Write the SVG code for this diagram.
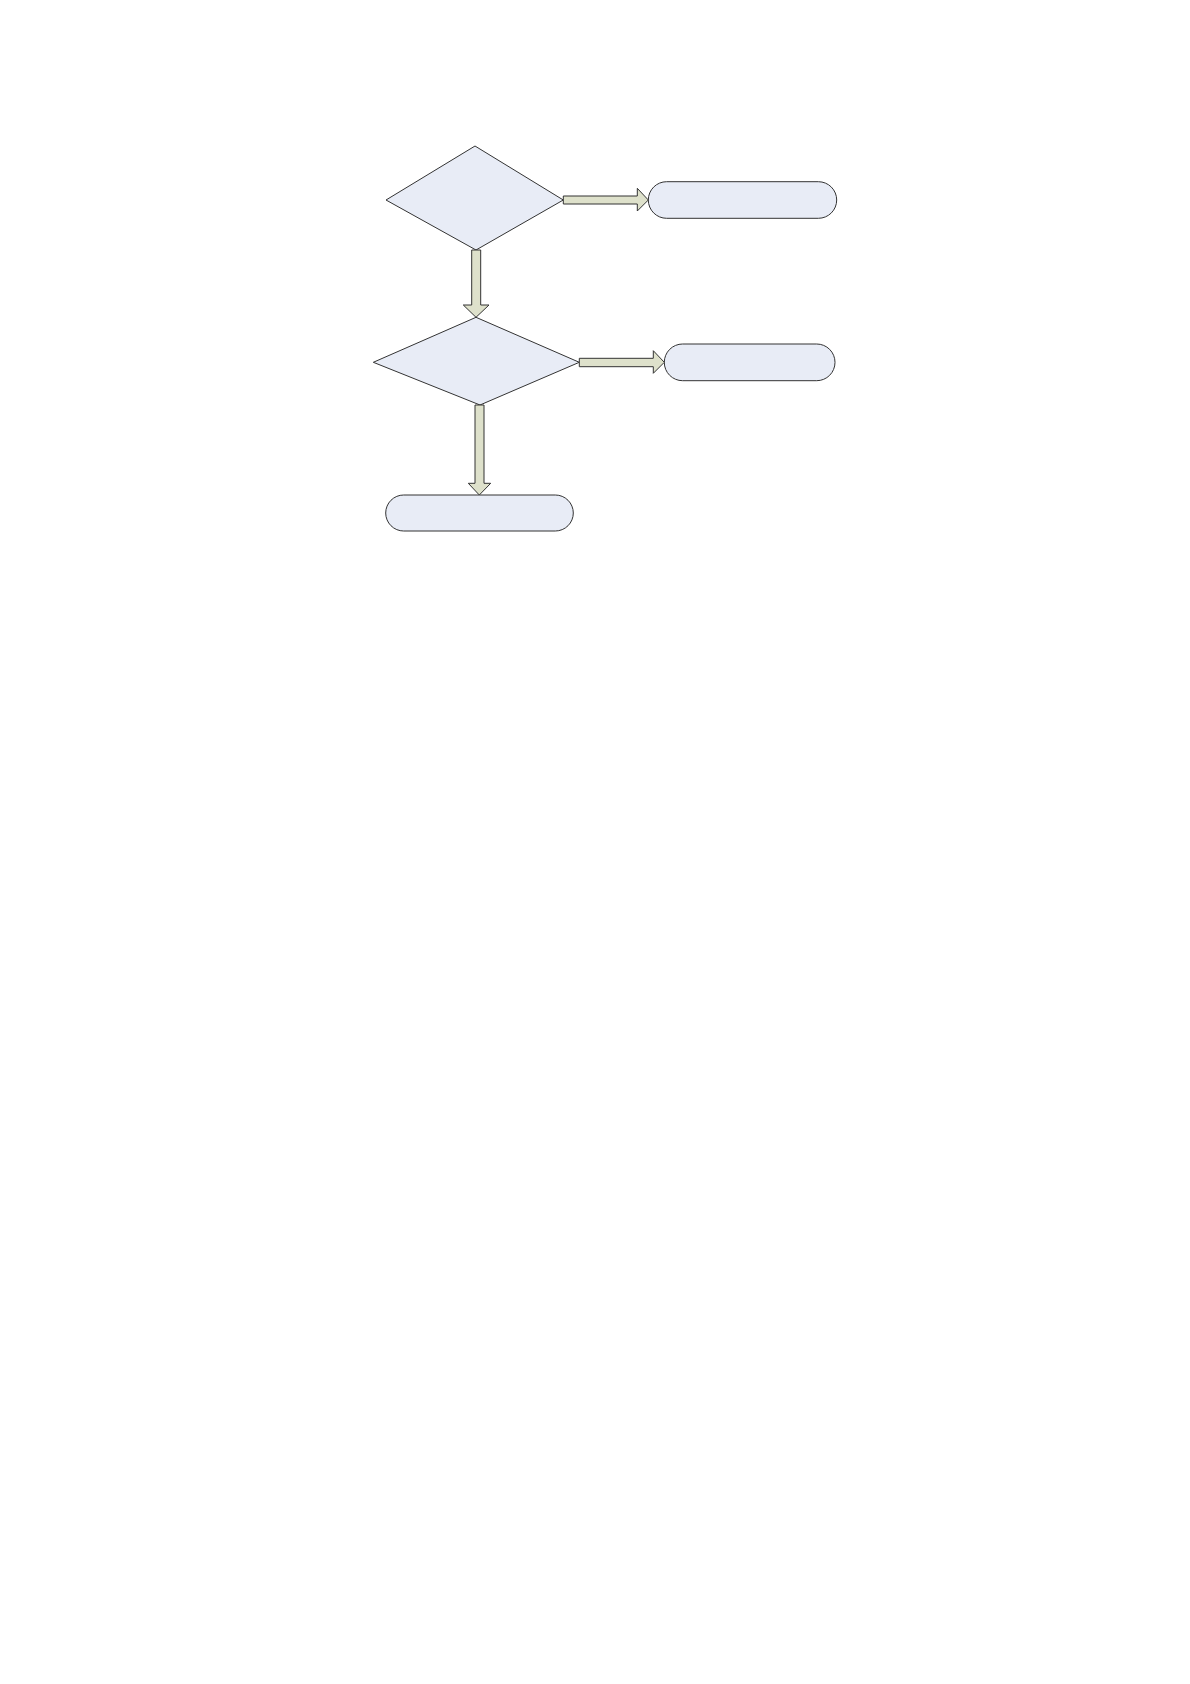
<svg xmlns="http://www.w3.org/2000/svg" width="1190" height="1684" viewBox="0 0 1190 1684">
<style>
.node{fill:#E8ECF6;stroke:#333333;stroke-width:1}
.arrow{fill:#DEE1CB;stroke:#333333;stroke-width:1;stroke-linejoin:miter}
</style>
<rect width="1190" height="1684" fill="#FFFFFF"/>
<g id="decision1"><polygon class="node" points="475,146 563.3,200 476,250 386,200"/></g>
<g id="terminal1"><rect class="node" x="648.3" y="181.7" width="188.4" height="36.6" rx="18.3" ry="18.3"/></g>
<g id="decision2"><polygon class="node" points="476,317.3 579.3,362.3 480,405 373.3,362.3"/></g>
<g id="terminal2"><rect class="node" x="664.3" y="344" width="170.7" height="36.7" rx="18.3" ry="18.3"/></g>
<g id="terminal3"><rect class="node" x="385.7" y="495" width="187.6" height="36" rx="18" ry="18"/></g>
<g id="connectors">
<polygon class="arrow" points="563.3,196 637.3,196 637.3,188.3 648.3,200 637.3,211 637.3,204 563.3,204"/>
<polygon class="arrow" points="471.7,250 480.7,250 480.7,305 489,305 476,317.3 463.3,305 471.7,305"/>
<polygon class="arrow" points="579.3,358.3 653.3,358.3 653.3,350.7 664.3,362.3 653.3,373.3 653.3,366.7 579.3,366.7"/>
<polygon class="arrow" points="475,405 484,405 484,483.3 490.7,483.3 479.3,495 468.3,483.3 475,483.3"/>
</g>
</svg>
